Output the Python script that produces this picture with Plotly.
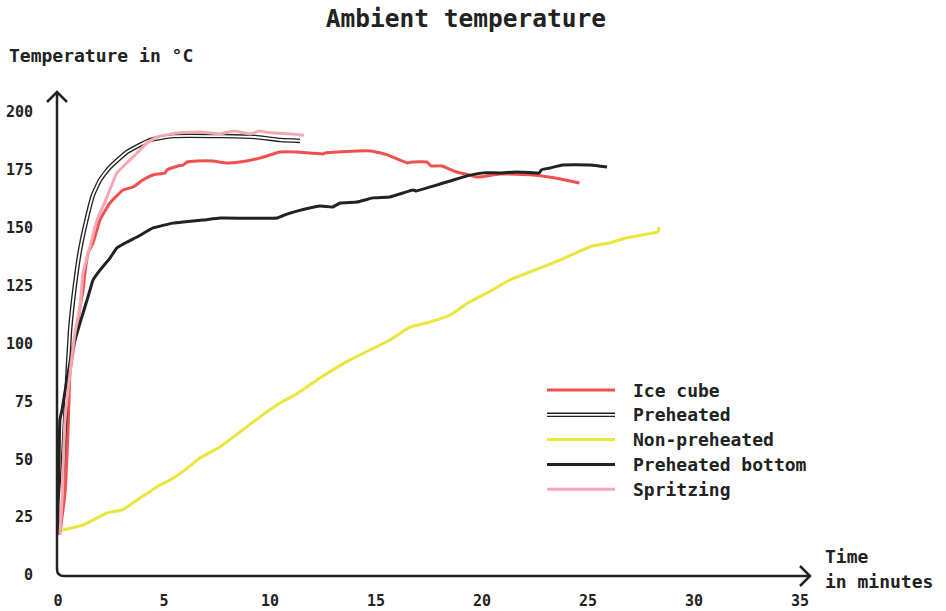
import plotly.graph_objects as go

# ---- data (minutes, °C) ----
ice_t = [0.09, 0.33, 0.47, 0.57, 0.8, 1.04, 1.18, 1.27, 1.42, 1.65, 1.98, 2.45, 3.07, 3.54, 4.0,
         4.48, 5.05, 5.14, 5.66, 5.9, 6.1, 6.56, 7.3, 7.97, 8.58, 9.53, 10.47, 11.27, 12.5, 12.6,
         14.15, 14.76, 15.57, 16.1, 16.5, 16.7, 17.4, 17.6, 18.1, 18.8, 19.4, 19.8, 20.85, 22.4,
         23.7, 24.6]
ice_v = [18.1, 35.4, 61.3, 87.7, 101.5, 115.8, 123.1, 130.5, 139.1, 143.4, 153.3, 160.7, 166.3,
         167.6, 170.6, 172.8, 173.7, 175.0, 176.7, 177.1, 178.4, 178.8, 178.8, 178.0, 178.4, 180.1,
         182.7, 182.7, 181.9, 182.3, 183.2, 183.2, 181.4, 179.3, 178.0, 178.4, 178.4, 176.7, 176.7,
         174.1, 172.8, 171.9, 173.2, 172.8, 171.1, 169.3]

pre_t = [0.0, 0.19, 0.38, 0.57, 0.8, 1.04, 1.32, 1.65, 1.98, 2.45, 3.25, 4.34, 5.42, 7.78, 9.3,
         10.5, 11.42]
pre_v = [19.4, 41.0, 75.6, 105.8, 125.3, 140.4, 152.5, 164.1, 170.6, 176.2, 182.7, 187.9, 189.6,
         189.6, 189.2, 187.9, 187.5]

non_t = [0.19, 1.18, 2.31, 3.02, 3.73, 4.81, 5.28, 5.99, 6.7, 7.64, 8.58, 9.53, 10.47, 11.18,
         12.36, 13.77, 14.72, 15.66, 16.37, 16.6, 17.55, 18.5, 19.4, 20.4, 21.3, 22.26, 23.7,
         24.5, 25.2, 26.0, 26.8, 27.8, 28.3, 28.35]
non_v = [19.4, 21.6, 26.8, 28.1, 32.4, 38.9, 41.0, 45.4, 50.5, 55.3, 61.8, 68.3, 74.3, 77.8,
         85.1, 92.9, 97.2, 101.5, 105.8, 107.1, 109.3, 112.3, 117.9, 122.7, 127.4, 130.9, 136.1,
         139.5, 142.1, 143.4, 145.6, 147.3, 148.2, 150.3]

bot_t = [0.0, 0.0, 0.05, 0.09, 0.19, 0.42, 0.71, 1.04, 1.37, 1.51, 1.65, 1.98, 2.45, 2.78, 3.25,
         3.73, 4.48, 5.42, 5.9, 6.84, 7.64, 10.33, 10.8, 11.27, 12.35, 12.97, 13.3, 14.1, 14.86,
         15.66, 16.27, 16.75, 16.9, 17.7, 18.5, 19.3, 20.05, 20.85, 21.65, 22.7, 22.8, 23.2, 23.8,
         25.1, 25.9]
bot_v = [17.3, 32.4, 49.7, 67.0, 71.3, 84.2, 98.5, 108.9, 118.8, 123.1, 127.4, 131.7, 136.9,
         141.3, 143.8, 146.0, 149.9, 152.0, 152.5, 153.3, 154.2, 154.2, 155.9, 157.2, 159.4, 159.0,
         160.7, 161.1, 162.9, 163.3, 165.0, 166.3, 165.9, 168.0, 170.2, 172.4, 173.7, 173.7, 174.1,
         173.7, 175.0, 175.8, 177.1, 177.1, 176.2]

spr_t = [0.09, 0.19, 0.33, 0.57, 0.8, 1.04, 1.18, 1.51, 1.84, 2.31, 2.78, 3.25, 3.73, 4.2, 4.67,
         5.61, 6.7, 7.6, 8.3, 9.1, 9.5, 10.0, 11.0, 11.6]
spr_v = [17.3, 32.4, 67.0, 87.3, 104.5, 115.8, 130.5, 141.7, 153.3, 163.3, 173.7, 178.0, 182.3,
         186.6, 189.2, 190.9, 191.4, 190.5, 191.8, 190.5, 191.8, 191.0, 190.5, 190.0]

x_ticks = [0, 5, 10, 15, 20, 25, 30, 35]
y_ticks = [0, 25, 50, 75, 100, 125, 150, 175, 200]

RED = "#f24f4f"
YELLOW = "#e9e63c"
INK = "#222222"
PINK = "#f5a8b2"
FONT = "DejaVu Sans Mono"

W, H = 946, 611
L, R, T, B = 58, 800, 112, 575  # plot box in pixels


def px(x):
    return (x - L) / (R - L)


def py(y):
    return (B - y) / (B - T)


def curve(t, v, color, width):
    return go.Scatter(x=t, y=v, mode="lines", showlegend=False, hoverinfo="skip",
                      line=dict(color=color, width=width, shape="spline", smoothing=0.4))


fig = go.Figure()
fig.add_trace(curve(ice_t, ice_v, RED, 3))
# "Preheated" is drawn as a hollow double line
fig.add_trace(curve(pre_t, pre_v, INK, 4.5))
fig.add_trace(curve(pre_t, pre_v, "white", 1.8))
fig.add_trace(curve(non_t, non_v, YELLOW, 3))
fig.add_trace(curve(bot_t, bot_v, INK, 3))
fig.add_trace(curve(spr_t, spr_v, PINK, 3))

shapes = []
# axes with a rounded corner and arrow heads
ax_path = (f"M {px(57)},{py(92)} L {px(57)},{py(569)} "
           f"Q {px(57)},{py(576)} {px(64)},{py(576)} L {px(809)},{py(576)}")
shapes.append(dict(type="path", xref="paper", yref="paper", path=ax_path,
                   line=dict(color=INK, width=2.5)))
shapes.append(dict(type="path", xref="paper", yref="paper",
                   path=f"M {px(47)},{py(102)} L {px(57)},{py(92)} L {px(67)},{py(102)}",
                   line=dict(color=INK, width=2.5)))
shapes.append(dict(type="path", xref="paper", yref="paper",
                   path=f"M {px(800)},{py(566)} L {px(810)},{py(576)} L {px(800)},{py(586)}",
                   line=dict(color=INK, width=2.5)))

# legend
legend_items = [("Ice cube", RED, None), ("Preheated", INK, "white"),
                ("Non-preheated", YELLOW, None), ("Preheated bottom", INK, None),
                ("Spritzing", PINK, None)]
annotations = []
for i, (name, col, inner) in enumerate(legend_items):
    yy = 390 + i * 24.8
    shapes.append(dict(type="line", xref="paper", yref="paper", x0=px(547), x1=px(615),
                       y0=py(yy), y1=py(yy),
                       line=dict(color=col, width=4.5 if inner else 3)))
    if inner:
        shapes.append(dict(type="line", xref="paper", yref="paper", x0=px(547), x1=px(615),
                           y0=py(yy), y1=py(yy), line=dict(color=inner, width=1.8)))
    annotations.append(dict(text=f"<b>{name}</b>", xref="paper", yref="paper", x=px(631),
                            y=py(yy), xanchor="left", yanchor="middle", showarrow=False,
                            font=dict(family=FONT, size=18, color=INK)))

annotations.append(dict(text="<b>Temperature in °C</b>", xref="paper", yref="paper",
                        x=px(7), y=py(55), xanchor="left", yanchor="middle", showarrow=False,
                        font=dict(family=FONT, size=18, color=INK)))
annotations.append(dict(text="<b>Time</b>", xref="paper", yref="paper",
                        x=px(823), y=py(556), xanchor="left", yanchor="middle", showarrow=False,
                        font=dict(family=FONT, size=18, color=INK)))
annotations.append(dict(text="<b>in minutes</b>", xref="paper", yref="paper",
                        x=px(823), y=py(581), xanchor="left", yanchor="middle", showarrow=False,
                        font=dict(family=FONT, size=18, color=INK)))

fig.update_layout(
    width=W, height=H,
    margin=dict(l=L, r=W - R, t=T, b=H - B),
    paper_bgcolor="white", plot_bgcolor="white",
    title=dict(text="<b>Ambient temperature</b>", xref="container", yref="container",
               x=466 / W, y=1 - 18 / H, xanchor="center", yanchor="middle",
               font=dict(family=FONT, size=24.5, color=INK)),
    xaxis=dict(range=[0, 35], tickvals=x_ticks, ticktext=[f"<b>{v}</b>" for v in x_ticks],
               showgrid=False, zeroline=False, showline=False, ticks="outside",
               ticklen=12, tickcolor="rgba(0,0,0,0)", automargin=False,
               tickfont=dict(family=FONT, size=15, color=INK)),
    yaxis=dict(range=[0, 200], tickvals=y_ticks, ticktext=[f"<b>{v}</b>" for v in y_ticks],
               showgrid=False, zeroline=False, showline=False, ticks="outside",
               ticklen=21, tickcolor="rgba(0,0,0,0)", automargin=False,
               tickfont=dict(family=FONT, size=15, color=INK)),
    shapes=shapes, annotations=annotations,
)

fig.write_html("out.html")
